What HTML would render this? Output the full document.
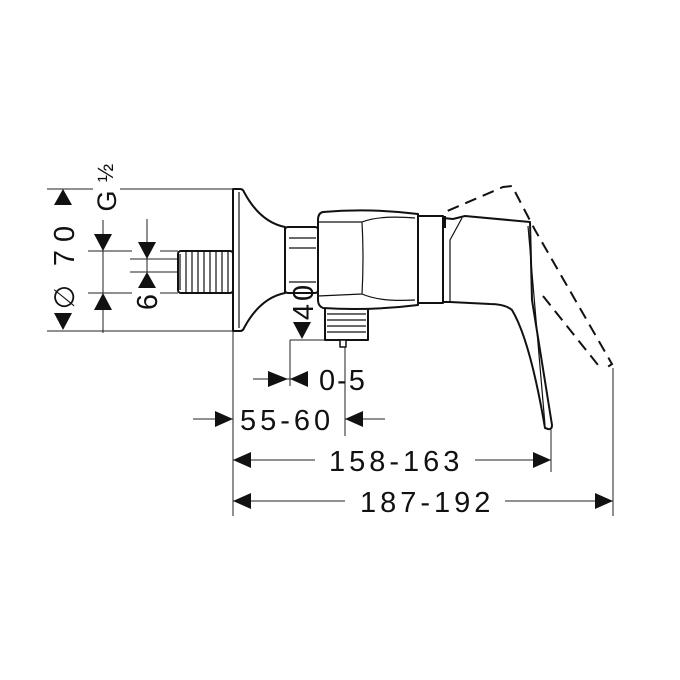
<!DOCTYPE html>
<html><head><style>body{margin:0;background:#fff}svg{display:block}text{font-family:"Liberation Sans",sans-serif;fill:#111}</style></head>
<body>
<svg width="680" height="680" viewBox="0 0 680 680" xmlns="http://www.w3.org/2000/svg">
<rect width="680" height="680" fill="#fff"/>
<g stroke="#222" stroke-width="1" fill="none">
<line x1="47" y1="189" x2="93" y2="189"/><line x1="120" y1="189" x2="232" y2="189"/>
<line x1="47" y1="331" x2="232" y2="331"/>
<line x1="88" y1="251" x2="132" y2="251"/><line x1="160" y1="251" x2="178" y2="251"/>
<line x1="88" y1="293" x2="132" y2="293"/><line x1="160" y1="293" x2="178" y2="293"/>
<line x1="103" y1="220" x2="103" y2="333"/>
<line x1="130" y1="259" x2="178" y2="259"/><line x1="130" y1="272" x2="178" y2="272"/>
<line x1="147" y1="219" x2="147" y2="288"/>
<line x1="268" y1="259" x2="318" y2="259"/>
<line x1="290" y1="340" x2="340" y2="340"/>
<line x1="233" y1="331" x2="233" y2="516"/>
<line x1="290" y1="340" x2="290" y2="386"/>
<line x1="345" y1="347" x2="345" y2="436"/>
<line x1="551" y1="430" x2="551" y2="472"/>
<line x1="613" y1="368" x2="613" y2="516"/>
<line x1="253" y1="379" x2="308" y2="379"/>
<line x1="193" y1="419" x2="233" y2="419"/>
<line x1="345" y1="419" x2="385" y2="419"/>
<line x1="233" y1="460" x2="315" y2="460"/><line x1="475" y1="460" x2="551" y2="460"/>
<line x1="233" y1="501" x2="345" y2="501"/><line x1="505" y1="501" x2="613" y2="501"/>
</g>
<g fill="#111">
<polygon points="54,205 72,205 63,189"/>
<polygon points="54,313 72,313 63,330"/>
<polygon points="94,234 112,234 103,251"/>
<polygon points="94,310 112,310 103,293"/>
<polygon points="138,242 156,242 147,259"/>
<polygon points="138,288 156,288 147,272"/>
<polygon points="293,277 311,277 302,260"/>
<polygon points="293,322 311,322 302,339"/>
<polygon points="268,371 268,387 288,379"/>
<polygon points="308,371 308,387 290,379"/>
<polygon points="215,411 215,427 233,419"/>
<polygon points="363,411 363,427 345,419"/>
<polygon points="251,452 251,468 233,460"/>
<polygon points="533,452 533,468 551,460"/>
<polygon points="251,493 251,509 233,501"/>
<polygon points="595,493 595,509 613,501"/>
</g>
<g stroke="#111" stroke-width="2" fill="#fff" stroke-linejoin="round">
<rect x="178" y="251" width="55" height="42" rx="3"/>
<path d="M233,189 L240,189 Q243,189 244,192 Q260,222 285,227 L285,293 Q260,298 244,328 Q243,331 240,331 L233,331 Z"/>
<rect x="285" y="227" width="33" height="66" rx="3"/>
<rect x="325" y="306" width="43" height="34"/>
<rect x="340" y="340" width="6" height="7" stroke-width="1.5"/>
<path d="M323,212 Q370,208 418,214 L418,305 Q370,311 323,308 Q318,306 318,300 L318,220 Q318,213 323,212 Z"/>
<rect x="418" y="216" width="25" height="87"/>
<path d="M443,218 L453,219 L465,216 L530,222 L532,300 L552,425 Q552,430 548,429 L545,428 Q530,340 512,310 Q505,304 490,304 L450,302 L443,302 Z"/>
</g>
<g stroke="#111" stroke-width="1.2" fill="none">
<line x1="180" y1="254" x2="180" y2="290"/><line x1="186" y1="252" x2="186" y2="292"/><line x1="192" y1="252" x2="192" y2="292"/><line x1="198" y1="252" x2="198" y2="292"/><line x1="204" y1="252" x2="204" y2="292"/><line x1="210" y1="252" x2="210" y2="292"/><line x1="216" y1="252" x2="216" y2="292"/><line x1="222" y1="252" x2="222" y2="292"/><line x1="228" y1="252" x2="228" y2="292"/>
<line x1="239" y1="192" x2="239" y2="328"/>
<line x1="289" y1="238" x2="316" y2="238"/><line x1="289" y1="248" x2="316" y2="248"/><line x1="289" y1="282" x2="316" y2="282"/>
<line x1="327" y1="314" x2="366" y2="314"/><line x1="327" y1="320" x2="366" y2="320"/><line x1="327" y1="326" x2="366" y2="326"/><line x1="327" y1="332" x2="366" y2="332"/>
<path d="M318,222 L362,222 Q380,215 415,218 M318,296 L362,294 Q380,302 415,300 M362,222 Q364,258 362,294"/>
<path d="M450,302 L450,240 L462,218"/>
<path d="M528,226 L545,425"/>
</g>
<g stroke="#111" stroke-width="2" fill="none" stroke-dasharray="12,7">
<path d="M445,228 L445,212 L503,187 L512,186 L535,230 L612,364 L603,370"/>
<path d="M543,296 L598,365"/>
</g>
<g font-size="29">
<text transform="translate(74,242) rotate(-90)" text-anchor="middle" letter-spacing="8">70</text>
<text transform="translate(74,297) rotate(-90)" text-anchor="middle" font-size="28">∅</text>
<text transform="translate(116,201) rotate(-90)" text-anchor="middle" font-size="27">G</text>
<text transform="translate(113,173) rotate(-90)" text-anchor="middle" font-size="22">½</text>
<text transform="translate(157,302) rotate(-90)" text-anchor="middle">6</text>
<text transform="translate(313,301) rotate(-90)" text-anchor="middle" letter-spacing="3">40</text>
<text x="319" y="390" letter-spacing="2">0-5</text>
<text x="240" y="430" letter-spacing="4">55-60</text>
<text x="329" y="471" letter-spacing="4">158-163</text>
<text x="360" y="512" letter-spacing="4">187-192</text>
</g>
</svg>
</body></html>
